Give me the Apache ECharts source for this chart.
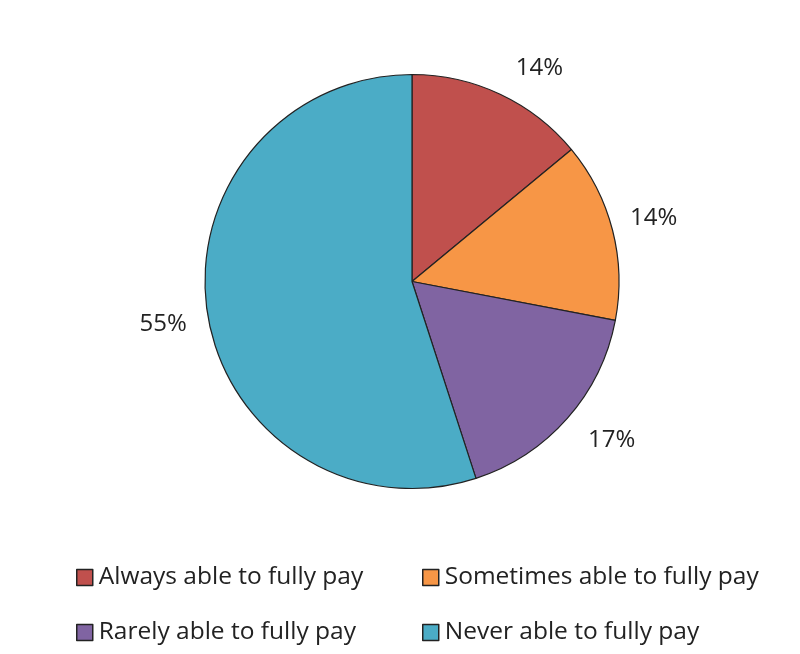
<!DOCTYPE html>
<html>
<head>
<meta charset="utf-8">
<script src="https://cdn.jsdelivr.net/npm/echarts@6/dist/echarts.min.js"></script>
<style>
  html, body { margin: 0; padding: 0; background: #fff; }
  #chart { width: 800px; height: 654px; }
</style>
</head>
<body>
<div id="chart"></div>
<script>
// Share of respondents by how often they can fully pay
const categories = [
  'Always able to fully pay',
  'Sometimes able to fully pay',
  'Rarely able to fully pay',
  'Never able to fully pay'
];
const shares = [14, 14, 17, 55];
const colors = ['#C0504D', '#F79646', '#8064A2', '#4BACC6'];

// Per-slice label spacing (distance beyond the rim, small vertical nudge)
const labelReach = [25, 13, 21, 16];
const labelNudge = [-3, -9, 8, 8];

const chart = echarts.init(document.getElementById('chart'), null, { renderer: 'canvas' });

const fontFamily = '"Open Sans", Lato, sans-serif';
const legendCommon = {
  orient: 'vertical',
  icon: 'rect',
  padding: 0,
  itemWidth: 16,
  itemHeight: 16,
  itemGap: 30,
  height: 90,
  itemStyle: { borderColor: '#222', borderWidth: 1.5 },
  textStyle: { fontFamily: fontFamily, fontSize: 24.5, lineHeight: 16, color: '#222', padding: [0, 0, 0, 1] },
  selectedMode: false
};

chart.setOption({
  animation: false,
  color: colors,
  legend: [
    Object.assign({}, legendCommon, { left: 76, top: 565, data: [categories[0], categories[2]] }),
    Object.assign({}, legendCommon, { left: 422, top: 565, data: [categories[1], categories[3]] })
  ],
  series: [{
    type: 'pie',
    center: [412, 281.5],
    radius: 207,
    startAngle: 90,
    clockwise: true,
    avoidLabelOverlap: false,
    data: categories.map((name, i) => ({
      name: name,
      value: shares[i],
      labelLine: { length: labelReach[i], length2: 0 }
    })),
    itemStyle: { borderColor: '#222', borderWidth: 1.2 },
    label: {
      show: true,
      position: 'outside',
      formatter: p => p.value + '%',
      fontFamily: fontFamily,
      fontSize: 24,
      color: '#222',
      distanceToLabelLine: 5
    },
    labelLine: { show: false },
    labelLayout: p => ({ dy: labelNudge[p.dataIndex] }),
    emphasis: { disabled: true }
  }]
});
</script>
</body>
</html>
